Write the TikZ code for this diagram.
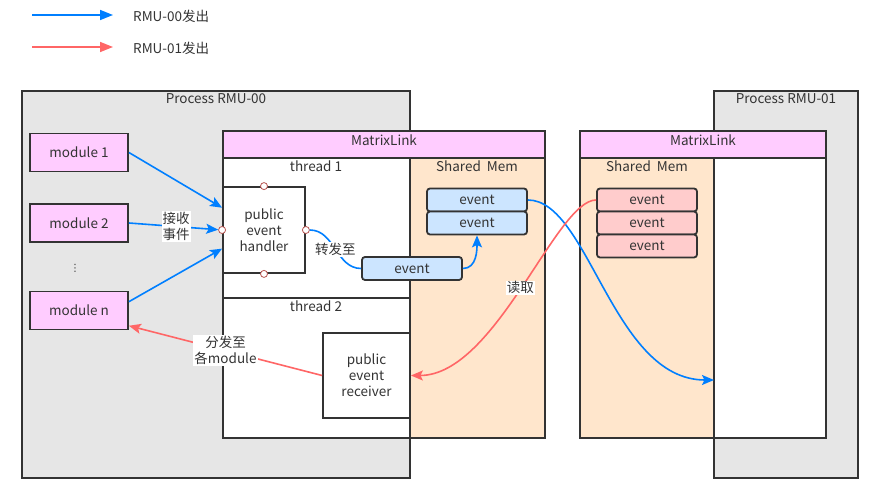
\documentclass[tikz,border=0pt]{standalone}
\usepackage{fontspec}
\setmainfont{Noto Sans CJK SC}
\newfontfamily\symfont{DejaVu Sans}
\usetikzlibrary{arrows.meta,positioning}
\definecolor{ink}{HTML}{333333}
\definecolor{procgray}{HTML}{E6E6E6}
\definecolor{linkpink}{HTML}{FFCCFF}
\definecolor{shmorange}{HTML}{FFE6CC}
\definecolor{evblue}{HTML}{CCE5FF}
\definecolor{evred}{HTML}{FFCCCC}
\definecolor{flowblue}{HTML}{007FFF}
\definecolor{flowred}{HTML}{FF6666}
\definecolor{portred}{HTML}{B85450}
\newcommand{\dgfont}{\fontsize{13.5}{16}\selectfont}
\begin{document}
\begin{tikzpicture}[x=1pt,y=-1pt,
  lbl/.style={text=ink,font=\dgfont,align=center,inner sep=0pt},
  box/.style={lbl,draw=ink,line width=1.8pt},
  mod/.style={box,fill=linkpink,minimum width=98,minimum height=38},
  evb/.style={box,rounded corners=3pt,fill=evblue,minimum width=100,minimum height=23},
  evr/.style={box,rounded corners=3pt,fill=evred,minimum width=100,minimum height=23},
  port/.style={circle,draw=portred,fill=white,line width=0.8pt,inner sep=0pt,minimum size=7pt},
  tag/.style={lbl,fill=white,inner sep=1pt},
  sendA/.style={draw=flowblue,line width=1.6pt,-{Stealth[length=12pt,width=10pt,inset=2.5pt]}},
  sendB/.style={draw=flowred,line width=1.6pt,-{Stealth[length=12pt,width=10pt,inset=2.5pt]}}]
\useasboundingbox (0,0) rectangle (887,502);

% legend
\coordinate (lgA1) at (32,15);
\coordinate (lgA2) at (113,15);
\coordinate (lgB1) at (32,47);
\coordinate (lgB2) at (113,47);
\draw[draw=flowblue,line width=1.6pt,-{Triangle[length=13pt,width=10pt]}] (lgA1) -- (lgA2);
\draw[draw=flowred,line width=1.6pt,-{Triangle[length=13pt,width=10pt]}] (lgB1) -- (lgB2);
\node[lbl,anchor=west] (lgA) at (133,16) {RMU-00发出};
\node[lbl,anchor=west] (lgB) at (133,48) {RMU-01发出};

% processes
\node[box,fill=procgray,minimum width=388,minimum height=387] (p0) at (216,284.5) {};
\node[lbl] (p0t) at (216,99) {Process RMU-00};
\node[box,fill=procgray,minimum width=144,minimum height=387] (p1) at (786,284.5) {};
\node[lbl] (p1t) at (786,99) {Process RMU-01};

% matrixlink of RMU-00
\node[box,fill=white,minimum width=322,minimum height=307] (ml0) at (384,284.5) {};
\node[box,fill=linkpink,minimum width=322,minimum height=27] (ml0h) at (384,144.5) {};
\node[lbl] (ml0t) at (384,140) {MatrixLink};
\node[box,fill=white,minimum width=187,minimum height=140] (th1) at (316.5,228) {};
\node[box,fill=white,minimum width=187,minimum height=140] (th2) at (316.5,368) {};
\node[box,fill=shmorange,minimum width=135,minimum height=280] (sh0) at (477.5,298) {};
\node[lbl] (th1t) at (316,166) {thread 1};
\node[lbl] (th2t) at (316,306) {thread 2};
\node[lbl] (sh0t) at (477,166) {Shared~\ Mem};

% matrixlink of RMU-01
\node[box,fill=white,minimum width=246,minimum height=307] (ml1) at (703,284.5) {};
\node[box,fill=linkpink,minimum width=246,minimum height=27] (ml1h) at (703,144.5) {};
\node[lbl] (ml1t) at (703,140) {MatrixLink};
\node[box,fill=shmorange,minimum width=134,minimum height=280] (sh1) at (647,298) {};
\node[lbl] (sh1t) at (647,166) {Shared~\ Mem};
\coordinate (rIn) at (714,380);

% handler and receiver
\node[box,fill=white,minimum width=82,minimum height=86] (hdl) at (264,230) {public\\event\\handler};
\node[port] (hN) at (hdl.north) {};
\node[port] (hS) at (hdl.south) {};
\node[port] (hW) at (hdl.west) {};
\node[port] (hE) at (hdl.east) {};
\node[box,fill=white,minimum width=87,minimum height=85] (rcv) at (366.5,375.5) {public\\event\\receiver};

% events
\node[evb] (ev0) at (412,268.5) {event};
\node[evb] (sa1) at (477,200) {event};
\node[evb] (sa2) at (477,223) {event};
\node[evr] (sb1) at (647,200) {event};
\node[evr] (sb2) at (647,223) {event};
\node[evr] (sb3) at (647,246) {event};

% modules
\node[mod] (m1) at (79,152.5) {module 1};
\node[mod] (m2) at (79,223) {module 2};
\node[lbl,font=\symfont\fontsize{10}{11}\selectfont] (mdots) at (75,268) {⋮};
\node[mod] (mn) at (79,310.5) {module n};

% flows
\draw[sendA] (m1.east) -- (hdl.152);
\draw[sendA] (m2.east) -- node[tag,pos=0.53] {接收\\事件} (hW);
\draw[sendA] (mn.10) -- (hdl.204);
\draw[draw=flowblue,line width=1.6pt] (hE) to[out=0,in=180] node[tag] {转发至} (ev0.west);
\draw[sendA] (ev0.east) to[out=0,in=-90] (sa2.south);
\draw[sendA] (sa1.east) to[out=0,in=180,out looseness=0.6,in looseness=1] (rIn);
\draw[sendB] (sb1.west) to[out=180,in=0,out looseness=0.4,in looseness=0.85] node[tag,pos=0.5] {读取} (rcv.east);
\draw[sendB] (rcv.west) -- node[tag,pos=0.5] {分发至\\各module} (mn.-17);
\end{tikzpicture}
\end{document}
